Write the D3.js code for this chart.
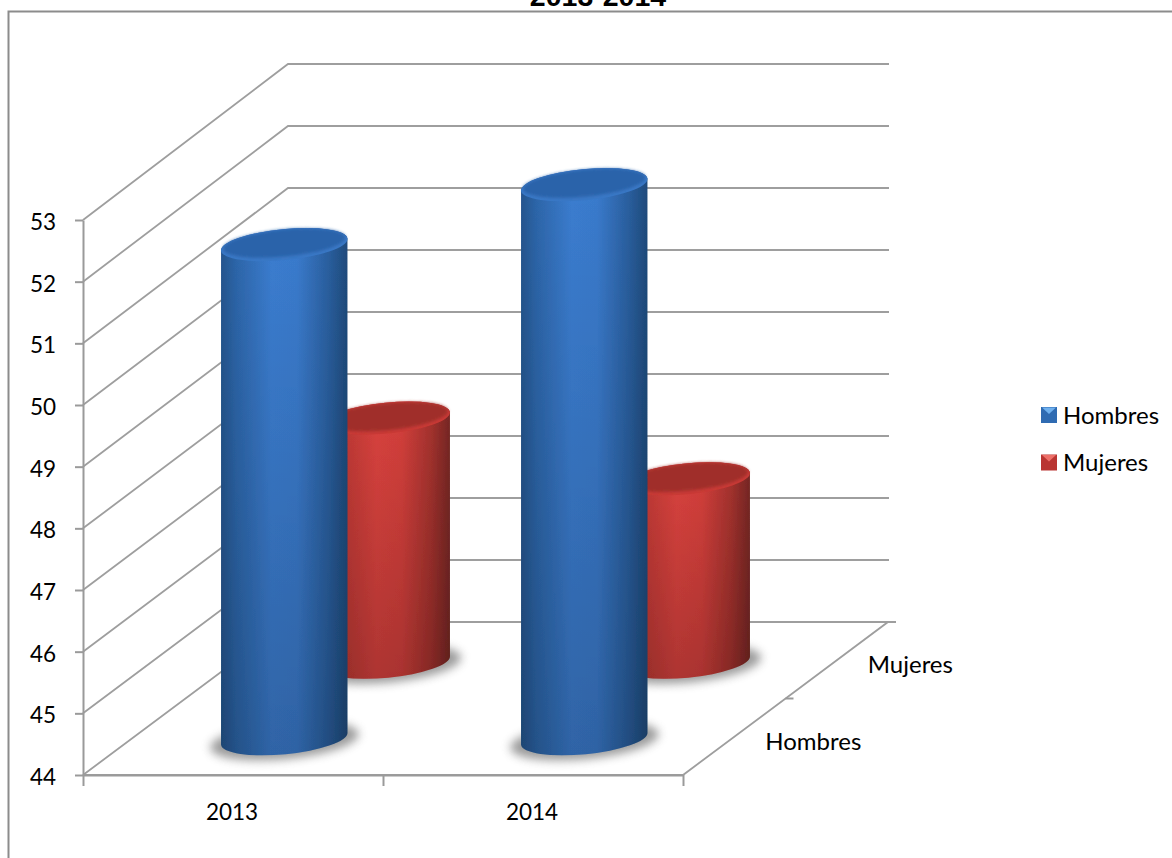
<html>
<style>
    body {
        margin: 0;
        background: #ffffff;
        overflow: hidden;
    }
    svg {
        display: block;
    }
    .lbl {
        font-family: Lato, sans-serif;
        font-size: 24px;
        fill: #000000;
    }
    .yearLbl {
        font-size: 22.5px;
    }
    .tick text {
        font-family: Lato, sans-serif;
        font-size: 22.5px;
        fill: #000000;
    }
    .tick line, .domain {
        stroke: #9a9a9a;
        stroke-width: 2;
    }
    .grid {
        fill: none;
        stroke: #9e9e9e;
        stroke-width: 1.8;
    }
</style>
<script src="https://d3js.org/d3.v7.min.js"></script>
<body>
<svg id="chart" width="1172" height="858"></svg>
</body>
<script>
  // values
  const titleText = "2013-2014"
  const years = ["2013", "2014"]
  const seriesNames = ["Hombres", "Mujeres"]
  const hombres = [51.97, 52.94]
  const mujeres = [47.91, 46.93]
  const yTicks = [44, 45, 46, 47, 48, 49, 50, 51, 52, 53]

  const svg = d3.select("#chart")
  const defs = svg.append("defs")

  // front plane and back wall of the 3d box
  const xBand = d3.scaleBand().domain(years).range([83, 683])
  const xEdges = d3.scaleLinear().domain([0, years.length]).range([83, 683])
  const yFront = d3.scaleLinear().domain([44, 53]).range([775, 220])
  const yBack = d3.scaleLinear().domain([44, 53]).range([622, 64])
  const depthX = d3.scaleLinear().domain([0, 1]).range([0, 205])
  const rowDepth = d3.scalePoint().domain(seriesNames).range([0, 1]).padding(0.5)
  const backRight = 889

  const yAt = (v, d) => yFront(v) + (yBack(v) - yFront(v)) * d

  // gradients
  function bodyGradient(id, stops) {
    const g = defs.append("linearGradient").attr("id", id)
    stops.forEach(s => g.append("stop").attr("offset", s[0]).attr("stop-color", s[1]))
  }
  bodyGradient("blueBody", [[0, "#25568f"], [0.12, "#2d66aa"], [0.4, "#3b7dd0"], [0.6, "#3a7bcd"], [0.85, "#2a5f9f"], [1, "#1f4b7c"]])
  bodyGradient("redBody", [[0, "#8f2f2b"], [0.12, "#b93733"], [0.42, "#d9423e"], [0.62, "#d33f3b"], [0.85, "#a5322e"], [1, "#762724"]])

  const shade = defs.append("linearGradient").attr("id", "shade").attr("x2", 0).attr("y2", 1)
  shade.append("stop").attr("offset", 0).attr("stop-color", "#000").attr("stop-opacity", 0)
  shade.append("stop").attr("offset", 1).attr("stop-color", "#000").attr("stop-opacity", 0.2)

  defs.append("filter").attr("id", "soft").append("feGaussianBlur").attr("stdDeviation", 0.6)
  defs.append("filter").attr("id", "shadow")
      .attr("x", "-20%").attr("y", "-40%").attr("width", "140%").attr("height", "180%")
      .append("feGaussianBlur").attr("stdDeviation", 5)
  defs.append("filter").attr("id", "capBlur").append("feGaussianBlur").attr("stdDeviation", 1.4)

  // chart frame, runs off the picture on the right and at the bottom
  svg.append("path")
      .attr("d", "M8.5,870V11.5H1180")
      .attr("fill", "none")
      .attr("stroke", "#8c8c8c")
      .attr("stroke-width", 2)

  svg.append("text")
      .attr("x", 598)
      .attr("y", 6)
      .attr("text-anchor", "middle")
      .style("font-family", "'Liberation Sans', Arial, sans-serif")
      .style("font-weight", "bold")
      .style("font-size", "28.5px")
      .text(titleText)

  // side wall + back wall lines
  svg.selectAll(".grid").data(yTicks).enter().append("path")
      .attr("class", "grid")
      .attr("d", d => d3.line()([[83, yFront(d)], [83 + depthX(1), yBack(d)], [backRight, yBack(d)]]))

  // floor
  svg.append("path")
      .attr("class", "grid")
      .attr("d", d3.line()([[83, yFront(44)], [683, yFront(44)], [683 + depthX(1), yBack(44)], [backRight + 7, yBack(44)]]))

  // value axis
  svg.append("g")
      .attr("transform", "translate(83,0)")
      .call(d3.axisLeft(yFront).tickValues(yTicks).tickSize(8).tickPadding(19).tickSizeOuter(0))
      .selectAll("text").attr("dy", "0.42em")

  // category axis, ticks sit between the categories
  svg.append("g")
      .attr("transform", `translate(0,${yFront(44)})`)
      .call(d3.axisBottom(xEdges).tickValues([0, 1, 2]).tickSize(11).tickFormat("").tickSizeOuter(0))

  svg.selectAll(".yearLbl").data(years).enter().append("text")
      .attr("class", "lbl yearLbl")
      .attr("x", d => xBand(d) + xBand.bandwidth() / 2 - 1)
      .attr("y", 820)
      .attr("text-anchor", "middle")
      .text(d => d)

  // depth axis tick and labels
  svg.append("line")
      .attr("x1", 683 + depthX(0.5)).attr("x2", 683 + depthX(0.5) + 8)
      .attr("y1", yAt(44, 0.5)).attr("y2", yAt(44, 0.5))
      .attr("stroke", "#9a9a9a").attr("stroke-width", 2)

  svg.selectAll(".depthLbl").data(seriesNames).enter().append("text")
      .attr("class", "lbl depthLbl")
      .attr("x", d => 683 + depthX(rowDepth(d)) + 31)
      .attr("y", d => yAt(44, rowDepth(d)) + 13)
      .text(d => d)

  // cylinders
  const rx = 63.5, ry = 15.5, tilt = -5.5
  const cosT = Math.cos(tilt * Math.PI / 180), sinT = Math.sin(tilt * Math.PI / 180)

  function drawCylinder(year, name, value, bodyId, capOuter, capInner) {
    const d = rowDepth(name)
    const cx = xBand(year) + xBand.bandwidth() / 2 + depthX(d)
    const top = yAt(value, d)
    const base = yAt(44, d) + 2
    const ex = rx * cosT, ey = rx * sinT
    const g = svg.append("g")

    g.append("ellipse")
        .attr("cx", cx).attr("cy", base + 2)
        .attr("rx", rx + 11).attr("ry", ry + 3)
        .attr("transform", `rotate(${tilt} ${cx} ${base})`)
        .attr("fill", "#666666")
        .attr("opacity", 0.65)
        .attr("filter", "url(#shadow)")

    const body = `M${cx - ex},${top - ey}L${cx - ex},${base - ey}` +
        `A${rx},${ry} ${tilt} 0 0 ${cx + ex},${base + ey}` +
        `L${cx + ex},${top + ey}` +
        `A${rx},${ry} ${tilt} 0 0 ${cx - ex},${top - ey}Z`

    const soft = g.append("g").attr("filter", "url(#soft)")
    soft.append("path").attr("d", body).attr("fill", `url(#${bodyId})`)
    soft.append("path").attr("d", body).attr("fill", "url(#shade)")

    soft.append("ellipse")
        .attr("cx", cx).attr("cy", top)
        .attr("rx", rx).attr("ry", ry)
        .attr("transform", `rotate(${tilt} ${cx} ${top})`)
        .attr("fill", capOuter)
    soft.append("ellipse")
        .attr("cx", cx).attr("cy", top - 1.5)
        .attr("rx", rx - 2).attr("ry", ry - 2)
        .attr("transform", `rotate(${tilt} ${cx} ${top - 1.5})`)
        .attr("fill", capInner)
        .attr("filter", "url(#capBlur)")
  }

  // back row first so the front row covers it
  years.forEach((y, i) => drawCylinder(y, "Mujeres", mujeres[i], "redBody", "#c93a36", "#a02f2b"))
  years.forEach((y, i) => drawCylinder(y, "Hombres", hombres[i], "blueBody", "#3a78c6", "#2b63aa"))

  // legend
  const legendY = d3.scalePoint().domain(seriesNames).range([415, 462.5])
  const legendColors = d3.scaleOrdinal().domain(seriesNames).range(["#2f6bb2", "#b93532"])
  const legendLight = d3.scaleOrdinal().domain(seriesNames).range(["#6fb0ee", "#ee6f68"])

  const legend = svg.selectAll(".legend").data(seriesNames).enter().append("g")
      .attr("class", "legend")
      .attr("transform", d => `translate(1041,${legendY(d)})`)
  legend.append("rect")
      .attr("y", -8).attr("width", 16).attr("height", 16)
      .attr("fill", d => legendColors(d))
  legend.append("path")
      .attr("d", "M1,-7.5L15,-7.5L8,-1Z")
      .attr("fill", d => legendLight(d))
  legend.append("text")
      .attr("class", "lbl")
      .attr("x", 22)
      .attr("y", 8.5)
      .text(d => d)
</script>
</html>
